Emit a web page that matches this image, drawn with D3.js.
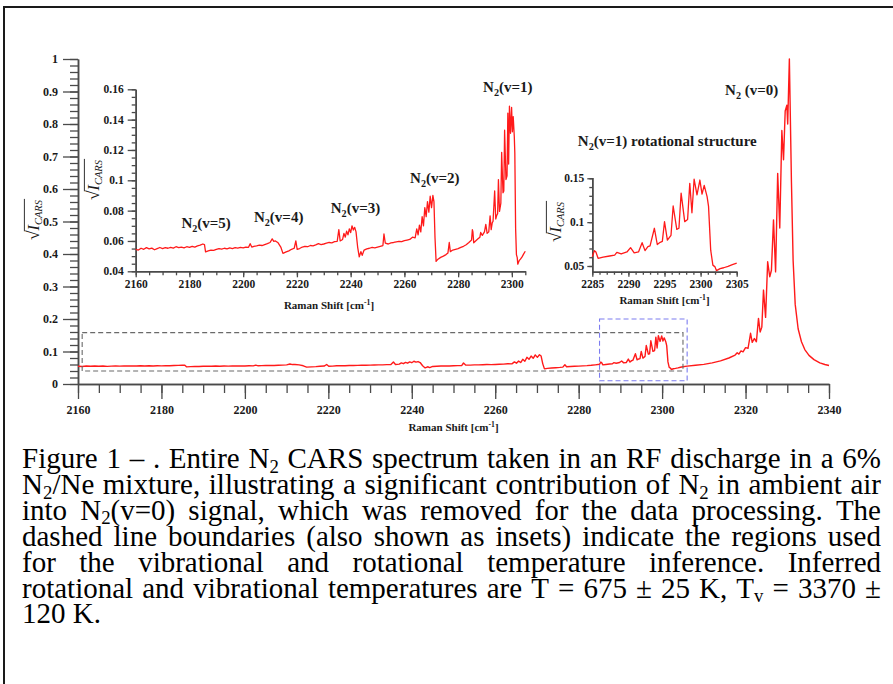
<!DOCTYPE html>
<html>
<head>
<meta charset="utf-8">
<script src="https://cdn.jsdelivr.net/npm/d3@7/dist/d3.min.js"></script>
<style>
  html, body { margin: 0; background: #fff; }
  svg { display: block; }
  svg text { font-family: "Liberation Serif", "Times New Roman", Times, serif; }
</style>
</head>
<body>
<svg id="fig" width="893" height="684"></svg>
<script>
// N2 CARS spectrum: [Raman shift (cm^-1), sqrt(I_CARS)]
const spectrum = [
  [2160,0.0545],[2161,0.0540],[2162,0.0552],[2163,0.0545],[2164,0.0556],[2165,0.0548],[2166,0.0553],[2167,0.0542],
  [2168,0.0550],[2169,0.0557],[2170,0.0550],[2171,0.0556],[2172,0.0552],[2173,0.0558],[2174,0.0553],[2175,0.0562],
  [2176,0.0556],[2177,0.0560],[2178,0.0555],[2179,0.0562],[2180,0.0558],[2181,0.0565],[2182,0.0560],[2183,0.0568],
  [2184,0.0572],[2185,0.0580],[2185.6,0.0576],[2186,0.0528],[2187,0.0535],[2188,0.0540],[2189,0.0538],[2190,0.0545],
  [2191,0.0550],[2192,0.0546],[2193,0.0552],[2194,0.0548],[2195,0.0554],[2196,0.0550],[2197,0.0556],[2198,0.0553],
  [2199,0.0558],[2200,0.0555],[2201,0.0560],[2202,0.0558],[2202.6,0.0582],[2203.2,0.0560],[2204,0.0565],[2205,0.0568],
  [2206,0.0572],[2207,0.0570],[2208,0.0576],[2209,0.0582],[2210,0.0590],[2210.8,0.0614],[2211.4,0.0598],[2212,0.0600],
  [2213,0.0588],[2214,0.0560],[2214.8,0.0518],[2216,0.0528],[2217,0.0535],[2218,0.0545],[2219,0.0552],[2219.6,0.0600],
  [2220.1,0.0545],[2221,0.0550],[2222,0.0560],[2223,0.0565],[2224,0.0562],[2225,0.0570],[2226,0.0568],[2227,0.0574],
  [2228,0.0582],[2229,0.0576],[2230,0.0580],[2231,0.0585],[2232,0.0590],[2233,0.0588],[2234,0.0595],[2235,0.0598],
  [2235.6,0.0675],[2236.1,0.0600],[2237,0.0610],[2237.5,0.0650],[2238,0.0625],[2238.5,0.0665],[2239,0.0640],[2239.5,0.0680],
  [2240,0.0655],[2240.5,0.0700],[2241,0.0672],[2241.5,0.0690],[2242,0.0660],[2242.6,0.0560],[2243.2,0.0495],[2243.8,0.0530],
  [2244.3,0.0505],[2245,0.0540],[2246,0.0548],[2247,0.0552],[2248,0.0558],[2249,0.0555],[2250,0.0560],[2251,0.0565],
  [2252,0.0570],[2252.4,0.0646],[2252.9,0.0585],[2254,0.0580],[2255,0.0588],[2256,0.0590],[2257,0.0594],[2258,0.0598],
  [2259,0.0595],[2260,0.0602],[2261,0.0606],[2262,0.0610],[2263,0.0625],[2264,0.0620],[2264.6,0.0680],[2265.1,0.0640],
  [2265.6,0.0705],[2266.1,0.0660],[2266.6,0.0760],[2267.1,0.0700],[2267.6,0.0820],[2268.1,0.0760],[2268.6,0.0860],[2269.1,0.0790],
  [2269.6,0.0895],[2270.1,0.0820],[2270.6,0.0900],[2271.0,0.0860],[2271.4,0.0620],[2271.8,0.0465],[2272.5,0.0480],[2273.5,0.0492],
  [2274.5,0.0500],[2275.5,0.0510],[2276.2,0.0520],[2276.7,0.0590],[2277.1,0.0530],[2278,0.0540],[2279,0.0545],[2280,0.0550],
  [2281,0.0558],[2282,0.0565],[2283,0.0575],[2284,0.0590],
  [2285.0,0.0606],[2285.3,0.0675],[2285.5,0.0660],[2285.8,0.0588],[2286.5,0.0600],[2287.4,0.0614],[2288.1,0.0625],[2288.4,0.0656],
  [2289.0,0.0637],[2289.8,0.0660],[2290.3,0.0709],[2290.8,0.0650],[2291.4,0.0660],[2291.9,0.0766],[2292.3,0.0675],[2292.7,0.0720],
  [2293.0,0.0730],[2293.6,0.0930],[2294.0,0.0745],[2294.4,0.0770],[2294.7,0.0780],[2295.0,0.1005],[2295.4,0.0795],[2295.9,0.0850],
  [2296.2,0.1184],[2296.7,0.0918],[2297.0,0.0930],[2297.3,0.1330],[2297.8,0.1005],[2298.2,0.1030],[2298.5,0.1443],[2298.8,0.1107],
  [2299.1,0.1489],[2299.5,0.1310],[2299.9,0.1480],[2300.2,0.1320],[2300.5,0.1420],[2300.9,0.1290],[2301.1,0.1180],[2301.4,0.0680],
  [2301.7,0.0510],[2302.0,0.0490],[2302.2,0.0447],[2302.7,0.0470],[2303.2,0.0480],[2303.8,0.0495],[2304.4,0.0515],[2305.0,0.0532],
  [2306,0.0550],[2308,0.0575],[2310,0.0605],[2312,0.0650],[2314,0.0710],[2316,0.0800],[2317.5,0.0890],[2318.0,0.0960],
  [2318.4,0.0920],[2318.9,0.1020],[2319.4,0.0990],[2320.0,0.1120],[2320.6,0.1100],[2321.2,0.1560],[2321.6,0.1280],[2322.1,0.1400],
  [2322.6,0.1300],[2323.1,0.2020],[2323.5,0.1600],[2323.9,0.1750],[2324.3,0.2890],[2324.8,0.2050],[2325.3,0.3760],[2325.8,0.3300],
  [2326.2,0.3500],[2326.7,0.5050],[2327.2,0.3450],[2327.7,0.6480],[2328.2,0.4800],[2328.7,0.7800],[2329.1,0.6900],[2329.5,0.8400],
  [2329.9,0.8580],[2330.1,0.8000],[2330.5,1.0000],[2331.0,0.6200],[2331.4,0.3800],[2331.9,0.2450],[2332.6,0.1700],[2333.4,0.1300],
  [2334.2,0.1060],[2335.2,0.0880],[2336.4,0.0750],[2337.8,0.0650],[2339.0,0.0600],[2340.0,0.0570]
];

// Tick labels
const mainXTicks = [2160, 2180, 2200, 2220, 2240, 2260, 2280, 2300, 2320, 2340];
const mainYTicks = [0, 0.1, 0.2, 0.3, 0.4, 0.5, 0.6, 0.7, 0.8, 0.9, 1];
const vibXTicks = [2160, 2180, 2200, 2220, 2240, 2260, 2280, 2300];
const vibYTicks = [0.04, 0.06, 0.08, 0.1, 0.12, 0.14, 0.16];
const rotXTicks = [2285, 2290, 2295, 2300, 2305];
const rotYTicks = [0.05, 0.1, 0.15];

// Spectral windows used for the temperature fits
const vibWindow = { x: [2161, 2305], y: [0.04, 0.158] };
const rotWindow = { x: [2285, 2306], y: [0.01, 0.2] };

// Band labels (data coordinates of the text start)
const vibLabels = [
  { text: "N_2(v=5)", x: 2177, y: 0.0685 },
  { text: "N_2(v=4)", x: 2204, y: 0.0725 },
  { text: "N_2(v=3)", x: 2232.6, y: 0.0784 },
  { text: "N_2(v=2)", x: 2262.1, y: 0.0982 },
  { text: "N_2(v=1)", x: 2289.3, y: 0.1582 }
];
const mainLabels = [
  { text: "N_2 (v=0)", x: 2315.1, y: 0.889 },
  { text: "N_2(v=1) rotational structure", x: 2279.8, y: 0.732 }
];

const captionLines = [
  "Figure 1 – . Entire N_2 CARS spectrum taken in an RF discharge in a 6%",
  "N_2/Ne mixture, illustrating a significant contribution of N_2 in ambient air",
  "into N_2(v=0) signal, which was removed for the data processing. The",
  "dashed line boundaries (also shown as insets) indicate the regions used",
  "for the vibrational and rotational temperature inference. Inferred",
  "rotational and vibrational temperatures are T = 675 ± 25 K, T_v = 3370 ±",
  "120 K."
];

const svg = d3.select("#fig");
svg.append("rect").attr("width", 893).attr("height", 684).attr("fill", "#fff");

// page frame
svg.append("path").attr("d", "M4,684 V7 H893").attr("fill", "none")
  .attr("stroke", "#1a1a1a").attr("stroke-width", 2);

// writes "A_2B" style strings as tspans, lowering the char after "_";
// state carries the lowered baseline across calls on the same text node
function richText(t, str, size, subScale, subDrop, state) {
  state = state || { lowered: false };
  const parts = str.split(/(_.)/).filter(s => s.length);
  let first = null;
  parts.forEach(p => {
    const ts = t.append("tspan");
    if (!first) first = ts;
    if (p[0] === "_") {
      ts.text(p[1]).attr("font-size", size * subScale);
      if (!state.lowered) ts.attr("dy", subDrop);
      state.lowered = true;
    } else {
      ts.text(p);
      if (state.lowered) { ts.attr("dy", -subDrop); state.lowered = false; }
    }
  });
  return first;
}

function panel(cfg) {
  const x = d3.scaleLinear(cfg.xDomain, cfg.xRange);
  const y = d3.scaleLinear(cfg.yDomain, cfg.yRange);
  const g = svg.append("g");
  const y0 = cfg.yRange[0], x0 = cfg.xRange[0];

  const xMinor = d3.range(cfg.xDomain[0], cfg.xDomain[1] + 1e-9, cfg.xMinorStep);
  const yMinor = d3.range(cfg.yTicks[0], cfg.yDomain[1] + 1e-9, cfg.yMinorStep);

  g.append("g").attr("class", "ax").attr("transform", `translate(0,${y0})`)
    .call(d3.axisBottom(x).tickValues(xMinor).tickSize(cfg.xMinorLen).tickFormat("").tickSizeOuter(0));
  g.append("g").attr("class", "ax").attr("transform", `translate(0,${y0})`)
    .call(d3.axisBottom(x).tickValues(cfg.xTicks).tickSize(cfg.xMajorLen).tickPadding(cfg.xPad)
      .tickFormat(d3.format("d")).tickSizeOuter(0));
  g.append("g").attr("class", "ax").attr("transform", `translate(${x0},0)`)
    .call(d3.axisLeft(y).tickValues(yMinor).tickSize(cfg.yMinorLen).tickFormat("").tickSizeOuter(0));
  g.append("g").attr("class", "ax").attr("transform", `translate(${x0},0)`)
    .call(d3.axisLeft(y).tickValues(cfg.yTicks).tickSize(cfg.yMajorLen).tickPadding(cfg.yPad)
      .tickFormat(d3.format("~g")).tickSizeOuter(0));

  g.selectAll(".ax path.domain").attr("stroke", "#4a4a4a").attr("stroke-width", 1.5);
  g.selectAll(".ax .tick line").attr("stroke", "#4a4a4a").attr("stroke-width", 1.3);
  g.selectAll(".ax text").attr("font-family", null).attr("font-weight", "bold")
    .attr("font-size", cfg.tickFont).attr("fill", "#1a1a1a");

  const pts = spectrum.filter(d => d[0] >= cfg.xDomain[0] && d[0] <= cfg.xDomain[1]);
  g.append("path").datum(pts)
    .attr("fill", "none").attr("stroke", "#ff1a1a").attr("stroke-width", cfg.lineWidth)
    .attr("stroke-linejoin", "round")
    .attr("d", d3.line().x(d => x(d[0])).y(d => y(d[1])));

  // x-axis title
  const tt = g.append("text").attr("x", cfg.xTitle[0]).attr("y", cfg.xTitle[1])
    .attr("text-anchor", "middle").attr("font-weight", "bold")
    .attr("font-size", cfg.titleFont).attr("fill", "#1a1a1a");
  tt.append("tspan").text("Raman Shift [cm");
  tt.append("tspan").attr("font-size", cfg.titleFont * 0.7).attr("dy", -cfg.titleFont * 0.4).text("-1");
  tt.append("tspan").attr("dy", cfg.titleFont * 0.4).text("]");

  sqrtLabel(cfg.yTitle[0], cfg.yTitle[1], cfg.yTitleFont);
  return { x, y, g };
}

function sqrtLabel(cx, cy, size) {
  const g = svg.append("g").attr("transform", `translate(${cx},${cy}) rotate(-90)`);
  const t = g.append("text").attr("font-size", size).attr("fill", "#1a1a1a");
  t.append("tspan").attr("font-size", size * 1.1).text("√");
  t.append("tspan").attr("font-style", "italic").text("I");
  t.append("tspan").attr("font-style", "italic").attr("font-size", size * 0.66)
    .attr("dy", size * 0.2).text("CARS");
  const n = t.node();
  const total = n.getComputedTextLength();
  const rad = n.getSubStringLength(0, 1);
  const shift = -total / 2;
  t.attr("x", shift).attr("y", size * 0.3);
  const top = size * 0.3 - size * 0.9;
  g.append("line")
    .attr("x1", shift + rad - 0.8).attr("x2", shift + total + 1)
    .attr("y1", top).attr("y2", top)
    .attr("stroke", "#1a1a1a").attr("stroke-width", 0.9);
}

// ---- main spectrum ----
const main = panel({
  xDomain: [2160, 2340], xRange: [78, 829],
  yDomain: [0, 1], yRange: [384, 59],
  xTicks: mainXTicks, yTicks: mainYTicks,
  xMinorStep: 5, yMinorStep: 0.02,
  xMajorLen: 15, xMinorLen: 9, yMajorLen: 15, yMinorLen: 8,
  xPad: 6, yPad: 5, tickFont: 12, titleFont: 11,
  xTitle: [453.5, 431], yTitle: [34, 220], yTitleFont: 16, lineWidth: 1.4
});

// window outlines on the main spectrum
main.g.append("rect")
  .attr("x", main.x(vibWindow.x[0])).attr("y", main.y(vibWindow.y[1]))
  .attr("width", main.x(vibWindow.x[1]) - main.x(vibWindow.x[0]))
  .attr("height", main.y(vibWindow.y[0]) - main.y(vibWindow.y[1]))
  .attr("fill", "none").attr("stroke", "#6a6a6a").attr("stroke-width", 1.1)
  .attr("stroke-dasharray", "5,3");
main.g.append("rect")
  .attr("x", main.x(rotWindow.x[0])).attr("y", main.y(rotWindow.y[1]))
  .attr("width", main.x(rotWindow.x[1]) - main.x(rotWindow.x[0]))
  .attr("height", main.y(rotWindow.y[0]) - main.y(rotWindow.y[1]))
  .attr("fill", "none").attr("stroke", "#7c7cf0").attr("stroke-width", 1.1)
  .attr("stroke-dasharray", "5,3");

// ---- vibrational inset ----
const vib = panel({
  xDomain: [2160, 2305], xRange: [135.7, 525.3],
  yDomain: [0.04, 0.16], yRange: [271.3, 89.3],
  xTicks: vibXTicks, yTicks: vibYTicks,
  xMinorStep: 5, yMinorStep: 0.005,
  xMajorLen: 6, xMinorLen: 4, yMajorLen: 8, yMinorLen: 4,
  xPad: 3, yPad: 4, tickFont: 11.5, titleFont: 11,
  xTitle: [329, 309], yTitle: [94, 180], yTitleFont: 16, lineWidth: 1.3
});

// ---- rotational inset ----
const rot = panel({
  xDomain: [2285, 2305], xRange: [592.3, 736.7],
  yDomain: [0.0435, 0.151], yRange: [271.7, 177.4],
  xTicks: rotXTicks, yTicks: rotYTicks,
  xMinorStep: 1, yMinorStep: 0.01,
  xMajorLen: 5, xMinorLen: 3, yMajorLen: 5, yMinorLen: 3,
  xPad: 3, yPad: 3, tickFont: 11.5, titleFont: 11,
  xTitle: [664.5, 304], yTitle: [556, 222], yTitleFont: 16, lineWidth: 1.3
});

function bandLabel(scales, d) {
  const t = svg.append("text").attr("x", scales.x(d.x)).attr("y", scales.y(d.y))
    .attr("font-weight", "bold").attr("font-size", 15).attr("fill", "#1a1a1a");
  richText(t, d.text, 15, 0.68, 4);
}
vibLabels.forEach(d => bandLabel(vib, d));
mainLabels.forEach(d => bandLabel(main, d));

// ---- caption, justified word by word ----
const capFont = 29, capLeft = 22, capRight = 881, capTop = 468, capLead = 25.9;
const capDrop = capFont * 0.16;
const cap = svg.append("g").attr("font-size", capFont).attr("fill", "#000");

function wordWidth(w) {
  const t = cap.append("text");
  richText(t, w, capFont, 0.65, capDrop);
  const wd = t.node().getComputedTextLength();
  t.remove();
  return wd;
}

captionLines.forEach((line, i) => {
  const yb = capTop + i * capLead;
  const words = line.split(" ");
  const widths = words.map(wordWidth);
  const sum = d3.sum(widths);
  const last = i === captionLines.length - 1;
  const gap = last ? capFont * 0.25 : (capRight - capLeft - sum) / (words.length - 1);
  const t = cap.append("text").attr("y", yb);
  const state = { lowered: false };
  let xx = capLeft;
  words.forEach((w, k) => {
    const first = richText(t, w, capFont, 0.65, capDrop, state);
    first.attr("x", xx);
    xx += widths[k] + gap;
  });
});
</script>
</body>
</html>
